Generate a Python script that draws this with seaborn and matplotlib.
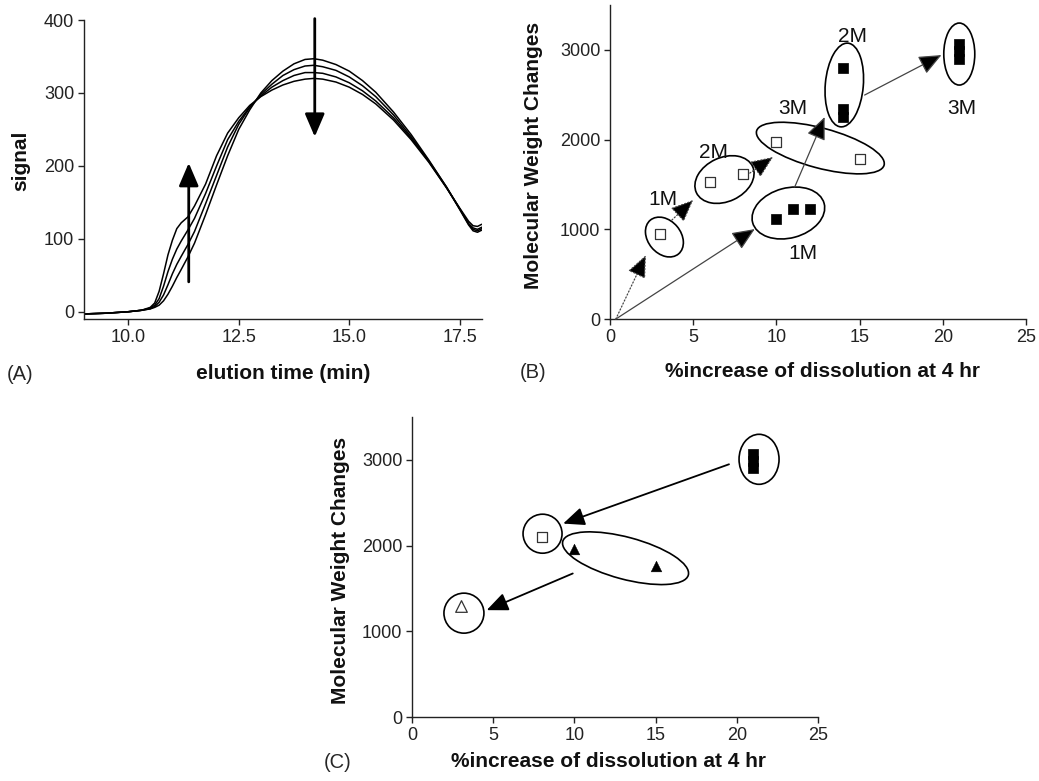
import numpy as np
import pandas as pd
import matplotlib
matplotlib.use('Agg')
import matplotlib.pyplot as plt
import seaborn as sns
from matplotlib.patches import Ellipse
from matplotlib.transforms import ScaledTranslation

# ---- panel A: elution curves ----
elution_t = [9.0, 9.5, 10.0, 10.3, 10.5, 10.6, 10.7, 10.8, 10.9, 11.0, 11.1, 11.2, 11.35,
             11.5, 11.75, 12.0, 12.25, 12.5, 12.75, 13.0, 13.25, 13.5, 13.75, 14.0, 14.2,
             14.4, 14.7, 15.0, 15.3, 15.6, 16.0, 16.4, 16.8, 17.2, 17.5, 17.7, 17.8, 17.9, 18.0]
signal_1 = [-3, -2, 0, 2, 6, 12, 28, 52, 78, 98, 114, 122, 130, 145, 175, 214, 245, 266, 283,
            295, 304, 311, 316, 319, 320, 319, 315, 308, 298, 285, 263, 236, 205, 170, 142,
            124, 118, 117, 120]
signal_2 = [-3, -2, 0, 2, 5, 9, 18, 35, 55, 72, 86, 97, 112, 128, 162, 200, 236, 261, 281,
            296, 308, 317, 324, 328, 328, 327, 322, 314, 303, 289, 266, 238, 206, 170, 141,
            121, 115, 113, 116]
signal_3 = [-3, -2, 0, 2, 4, 7, 13, 23, 37, 52, 65, 76, 92, 110, 148, 187, 226, 257, 280,
            298, 312, 324, 332, 337, 338, 336, 331, 322, 310, 295, 270, 240, 207, 171, 141,
            120, 113, 111, 114]
signal_4 = [-3, -2, 0, 2, 4, 6, 9, 15, 24, 35, 47, 58, 75, 94, 133, 174, 214, 250, 277,
            300, 317, 330, 340, 346, 347, 345, 339, 330, 317, 301, 274, 243, 208, 171, 140,
            119, 111, 109, 112]

# ---- panel B ----
b_open_x = [3, 6, 8, 10, 15]
b_open_y = [950, 1530, 1620, 1970, 1780]
b_fill_x = [10, 11, 12, 14, 14, 14, 21, 21, 21]
b_fill_y = [1120, 1230, 1230, 2800, 2340, 2250, 3070, 2985, 2900]
b_labels = ['1M', '2M', '3M', '1M', '2M', '3M']
b_label_x = [3.2, 6.2, 11.0, 11.6, 14.55, 21.15]
b_label_y = [1330, 1860, 2350, 735, 3145, 2350]

# ---- panel C ----
c_fill_sq_x = [21, 21, 21]
c_fill_sq_y = [3070, 2985, 2900]
c_open_sq_x = [8]
c_open_sq_y = [2100]
c_fill_tri_x = [10, 15]
c_fill_tri_y = [1960, 1760]
c_open_tri_x = [3]
c_open_tri_y = [1300]

sns.set_theme(style='ticks')
plt.rcParams['font.family'] = ['Liberation Sans', 'DejaVu Sans']

fig = plt.figure(figsize=(10.39, 7.81), dpi=100)
axA = fig.add_axes([0.0808, 0.5915, 0.383, 0.3828])
axB = fig.add_axes([0.5871, 0.5915, 0.4004, 0.402])
axC = fig.add_axes([0.3965, 0.0819, 0.3908, 0.3841])


def style(ax):
    sns.despine(ax=ax)
    for s in ['left', 'bottom']:
        ax.spines[s].set_linewidth(1.0)
        ax.spines[s].set_color('#222222')
    ax.tick_params(length=4, width=1.0, labelsize=13, pad=3, colors='#222222')


def ring(ax, cx, cy, w, h, ang=0):
    tr = fig.dpi_scale_trans + ScaledTranslation(cx, cy, ax.transData)
    ax.add_patch(Ellipse((0, 0), w / 100, h / 100, angle=ang, transform=tr,
                         fill=False, lw=1.2, ec='black', clip_on=False))


def arrow(ax, start, end, ls='-', lw=0.9, color='#444444', hl=0.7, hw=0.3, ms=20):
    ax.annotate('', xy=end, xytext=start,
                arrowprops=dict(arrowstyle=f'-|>,head_length={hl},head_width={hw}',
                                lw=lw, ls=ls, color=color, fc='black',
                                mutation_scale=ms, shrinkA=0, shrinkB=0))


lab_kw = dict(fontsize=15, fontweight='bold', color='#111111')

# ---- A ----
curves = pd.DataFrame({
    't': elution_t * 4,
    'signal': signal_1 + signal_2 + signal_3 + signal_4,
    'run': np.repeat([1, 2, 3, 4], len(elution_t)),
})
sns.lineplot(data=curves, x='t', y='signal', units='run', estimator=None,
             color='black', lw=1.1, ax=axA)
axA.set_xlim(9, 18)
axA.set_ylim(-10, 400)
axA.set_xticks([10, 12.5, 15, 17.5])
axA.set_xticklabels(['10.0', '12.5', '15.0', '17.5'])
axA.set_yticks([0, 100, 200, 300, 400])
style(axA)
axA.set_xlabel('elution time (min)', **lab_kw)
axA.set_ylabel('signal', **lab_kw)
axA.xaxis.set_label_coords(0.5, -0.15)
axA.yaxis.set_label_coords(-0.135, 0.53)
arrow(axA, (11.37, 41), (11.37, 204), lw=2, color='black', hl=0.7, hw=0.3)
arrow(axA, (14.22, 402), (14.22, 240), lw=2, color='black', hl=0.7, hw=0.3)

# ---- B ----
sns.scatterplot(x=b_open_x, y=b_open_y, marker='s', s=62, facecolor='white',
                edgecolor='#333333', linewidth=0.9, ax=axB, zorder=3)
sns.scatterplot(x=b_fill_x, y=b_fill_y, marker='s', s=52, color='black',
                edgecolor='black', linewidth=0.5, ax=axB, zorder=3)
axB.set_xlim(0, 25)
axB.set_ylim(0, 3500)
axB.set_xticks([0, 5, 10, 15, 20, 25])
axB.set_yticks([0, 1000, 2000, 3000])
style(axB)
axB.set_xlabel('%increase of dissolution at 4 hr', **lab_kw)
axB.set_ylabel('Molecular Weight Changes', **lab_kw)
axB.xaxis.set_label_coords(0.512, -0.138)
axB.yaxis.set_label_coords(-0.16, 0.522)
for x, y, w, h, a in [(3.27, 914, 44, 33, -50), (6.88, 1555, 62, 44, 25),
                      (12.64, 1906, 132, 40, -15), (10.72, 1182, 74, 50, 15),
                      (14.08, 2609, 38, 84, -5), (20.99, 2954, 31, 62, 0)]:
    ring(axB, x, y, w, h, a)
for st, en, ls in [((0.35, 0), (2.16, 713), ':'), ((3.72, 1104), (5.0, 1327), ':'),
                   ((8.4, 1627), (9.8, 1806), ':'), ((0.35, 0), (8.7, 1003), '-'),
                   ((11.1, 1472), (12.9, 2252), '-'), ((15.3, 2497), (19.92, 2943), '-')]:
    arrow(axB, st, en, ls=ls)
for lab, x, y in zip(b_labels, b_label_x, b_label_y):
    axB.text(x, y, lab, fontsize=15, ha='center', va='center', color='#111111')

# ---- C ----
sns.scatterplot(x=c_fill_sq_x, y=c_fill_sq_y, marker='s', s=52, color='black',
                edgecolor='black', linewidth=0.5, ax=axC, zorder=3)
sns.scatterplot(x=c_open_sq_x, y=c_open_sq_y, marker='s', s=62, facecolor='white',
                edgecolor='#333333', linewidth=0.9, ax=axC, zorder=3)
sns.scatterplot(x=c_fill_tri_x, y=c_fill_tri_y, marker='^', s=60, color='black',
                edgecolor='black', linewidth=0.3, ax=axC, zorder=3)
sns.scatterplot(x=c_open_tri_x, y=c_open_tri_y, marker='^', s=70, facecolor='white',
                edgecolor='#333333', linewidth=0.9, ax=axC, zorder=3)
axC.set_xlim(0, 25)
axC.set_ylim(0, 3500)
axC.set_xticks([0, 5, 10, 15, 20, 25])
axC.set_yticks([0, 1000, 2000, 3000])
style(axC)
axC.set_xlabel('%increase of dissolution at 4 hr', **lab_kw)
axC.set_ylabel('Molecular Weight Changes', **lab_kw)
axC.xaxis.set_label_coords(0.485, -0.118)
axC.yaxis.set_label_coords(-0.153, 0.49)
for x, y, w, h, a in [(21.37, 3007, 40, 50, 0), (8.04, 2139, 39, 39, 0),
                      (13.15, 1853, 130, 42, -15), (3.2, 1212, 40, 40, 0)]:
    ring(axC, x, y, w, h, a)
arrow(axC, (19.52, 2949), (9.31, 2257), lw=1.3, color='black', hl=0.65, hw=0.28)
arrow(axC, (9.9, 1675), (4.6, 1247), lw=1.3, color='black', hl=0.65, hw=0.28)

# panel letters
fig.text(20 / 1039, 1 - 374 / 781, '(A)', fontsize=14.5, ha='center', va='center')
fig.text(533 / 1039, 1 - 373 / 781, '(B)', fontsize=14.5, ha='center', va='center')
fig.text(338 / 1039, 1 - 763 / 781, '(C)', fontsize=14.5, ha='center', va='center')

fig.savefig('out.png', dpi=100)
